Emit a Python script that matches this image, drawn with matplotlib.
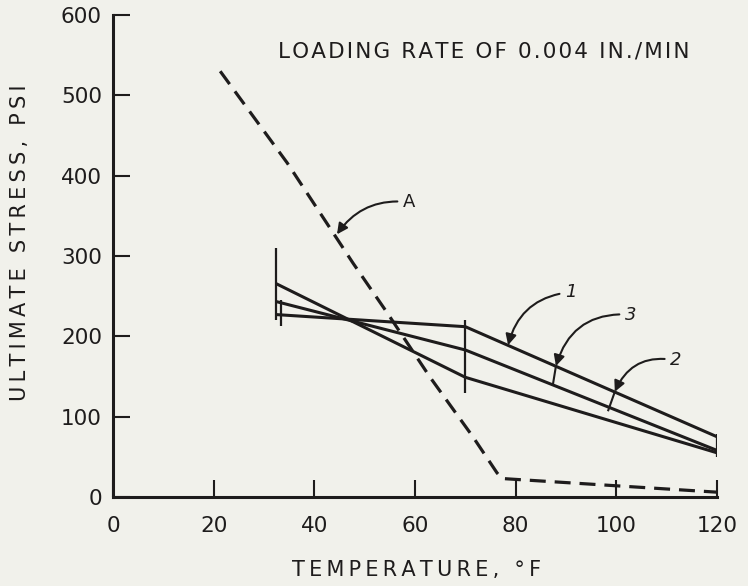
import numpy as np
import matplotlib.pyplot as plt

# ---------------------------------------------------
# values
temp_a = [21.3, 34.6, 47.7, 54.4, 63.0, 71.5, 76.3, 77.3, 120]
stress_a = [530, 416, 291, 230, 149, 75, 30, 23, 6]

temp_c = [32.6, 70, 120]
stress_1 = [227, 212, 75]
stress_2 = [265, 149, 55]
stress_3 = [243, 183, 58]

# range bars (temperature, low, high)
bar_t = [32.3, 33.4, 70, 120]
bar_lo = [220, 213, 129, 50]
bar_hi = [310, 245, 220, 78]

x_ticks = [0, 20, 40, 60, 80, 100, 120]
y_ticks = [0, 100, 200, 300, 400, 500, 600]

ink = '#1e1c1c'
bg = '#f1f1eb'
hs = '\u200a'   # hair space, to spread the lettering


def spaced(s, n=1):
    return (hs * n).join(s)


# ---------------------------------------------------
fig = plt.figure(figsize=(7.48, 5.86), dpi=100, facecolor=bg)
ax = fig.add_axes([113/748, 1 - 497/586, 604/748, 482/586])
ax.set_facecolor(bg)

ax.plot(temp_a, stress_a, color=ink, lw=2.3, dashes=(5, 2.8))
for s in (stress_1, stress_2, stress_3):
    ax.plot(temp_c, s, color=ink, lw=2.2, solid_joinstyle='miter')
ax.vlines(bar_t, bar_lo, bar_hi, color=ink, lw=1.6)

ax.set_xlim(0, 120)
ax.set_ylim(0, 600)
ax.set_xticks(x_ticks)
ax.set_yticks(y_ticks)
ax.set_xticklabels([str(v) for v in x_ticks])
ax.set_yticklabels([str(v) for v in y_ticks])
for sp in ('top', 'right'):
    ax.spines[sp].set_visible(False)
for sp in ('left', 'bottom'):
    ax.spines[sp].set_linewidth(2.2)
    ax.spines[sp].set_color(ink)
ax.tick_params(axis='both', direction='in', length=12, width=1.5,
               colors=ink, labelsize=15.5)
ax.tick_params(axis='y', pad=8)
ax.tick_params(axis='x', pad=14)
for lab in ax.get_xticklabels() + ax.get_yticklabels():
    lab.set_color(ink)

fig.text(20/748, 1 - 243/586, spaced('ULTIMATE STRESS, PSI', 2), rotation=90,
         ha='center', va='center', fontsize=15, color=ink)
fig.text(417/748, 1 - 570/586, spaced('TEMPERATURE, °F', 2),
         ha='center', va='center', fontsize=15, color=ink)

ax.text(32.8, 555, spaced('LOADING RATE OF 0.004 IN./MIN'), ha='left', va='center',
        fontsize=15.5, color=ink)

# ---------------------------------------------------
# curve callouts
arw = dict(arrowstyle='-|>', color=ink, lw=1.5, mutation_scale=16,
           shrinkA=2, shrinkB=0)

ax.annotate('A', xy=(44.5, 327), xytext=(57.6, 367), ha='left', va='center',
            fontsize=13, color=ink,
            arrowprops=dict(arw, connectionstyle='arc3,rad=0.3'))
ax.annotate('1', xy=(78.5, 189), xytext=(89.8, 255), ha='left', va='center',
            fontsize=13, color=ink, style='italic',
            arrowprops=dict(arw, connectionstyle='arc3,rad=0.35'))
ax.annotate('3', xy=(88, 163), xytext=(101.7, 227), ha='left', va='center',
            fontsize=13, color=ink, style='italic',
            arrowprops=dict(arw, connectionstyle='arc3,rad=0.4'))
ax.plot([88, 87.4], [163, 140], color=ink, lw=1.5)
ax.annotate('2', xy=(99.7, 131), xytext=(110.7, 170), ha='left', va='center',
            fontsize=13, color=ink, style='italic',
            arrowprops=dict(arw, connectionstyle='arc3,rad=0.4'))
ax.plot([99.7, 98.4], [131, 108], color=ink, lw=1.5)

plt.savefig('out.png', dpi=100, facecolor=bg)
